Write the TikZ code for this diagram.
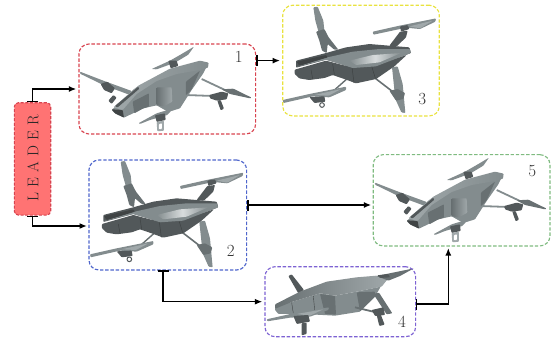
\documentclass[tikz,border=0pt]{standalone}
\usetikzlibrary{arrows.meta}
\definecolor{dk}{HTML}{52585A}
\definecolor{dkk}{HTML}{3F4344}
\definecolor{md}{HTML}{838C8E}
\definecolor{mdd}{HTML}{687072}
\definecolor{lt}{HTML}{A0A8AA}
\definecolor{wh}{HTML}{D8DCDD}
\definecolor{cred}{HTML}{D8434F}
\definecolor{cblue}{HTML}{4F66CC}
\definecolor{cyel}{HTML}{E9E23F}
\definecolor{cpur}{HTML}{7D62D3}
\definecolor{cgrn}{HTML}{7FBB80}
\tikzset{
 zbox/.style={draw,rounded corners=10pt,line width=1.15pt,dash pattern=on 3.4pt off 1.8pt,inner sep=0pt},
 lead/.style={draw=cred,fill=red!55,rounded corners=4pt,line width=1.1pt,dash pattern=on 3pt off 1.6pt,inner sep=0pt},
 num/.style={font=\fontsize{17}{19}\selectfont,text=black!80,inner sep=0pt},
 tee/.style={{Bar[width=11pt,line width=1.5pt]}-{Latex[length=7.5pt,width=6pt]},line width=1.5pt,shorten >=2pt},
 zone/.style={x=0.3333pt,y=-0.3333pt,line join=round,rounded corners=0.8pt}
}
% drone seen from the front-left (boxes 1 and 5)
\newcommand{\dronefront}[2]{%
\begin{scope}[shift={(#1,#2)},zone]
 % top propeller
 \fill[md] (455,117) -- (510,92) -- (545,72) -- (582,50) -- (565,74) -- (525,98) -- (470,118) -- cycle;
 \fill[dk] (505,92) -- (530,92) -- (535,108) -- (512,115) -- cycle;
 % left arm, blade and motor
 \fill[md] (240,125) -- (310,152) -- (395,183) -- (390,195) -- (312,166) -- (240,131) -- cycle;
 \fill[dk] (302,162) -- (322,155) -- (345,175) -- (335,190) -- (312,180) -- cycle;
 \fill[dk] (325,212) -- (340,195) -- (350,203) -- (335,222) -- cycle;
 % right arms, blade and motor
 \draw[md,line width=1.8pt] (605,147) -- (675,180);
 \draw[md,line width=1.8pt] (555,195) -- (640,198);
 \fill[mdd] (665,178) -- (700,176) -- (755,203) -- (750,205) -- (690,192) -- cycle;
 \fill[dk] (628,195) -- (665,185) -- (685,190) -- (680,208) -- (650,212) -- (630,205) -- cycle;
 \fill[dk] (652,212) -- (662,210) -- (672,236) -- (662,241) -- cycle;
 % body side
 \fill[md] (335,240) -- (405,175) -- (510,120) -- (625,100) -- (610,130) -- (575,180) -- (540,235) -- (505,246) -- (470,226) -- (430,235) -- (372,263) -- (345,250) -- cycle;
 \fill[dkk] (335,238) -- (368,240) -- (372,263) -- (345,250) -- cycle;
 \fill[mdd] (398,215) -- (447,190) -- (447,230) -- (430,235) -- (403,250) -- cycle;
 \shade[left color=mdd,right color=lt] (470,172) -- (515,172) -- (517,215) -- (490,230) -- (470,225) -- cycle;
 \fill[mdd] (558,155) -- (600,122) -- (575,178) -- (558,196) -- cycle;
 % body top
 \shade[left color=lt,right color=md] (340,232) -- (415,167) -- (510,116) -- (600,92) -- (626,98) -- (624,113) -- (600,120) -- (530,132) -- (470,153) -- (410,192) -- (368,240) -- cycle;
 \fill[dk] (345,228) -- (415,170) -- (418,176) -- (352,233) -- cycle;
 % bottom propeller
 \fill[md] (415,280) -- (470,250) -- (520,235) -- (502,255) -- (450,270) -- (420,282) -- cycle;
 \fill[dk] (465,256) -- (495,250) -- (497,270) -- (470,276) -- cycle;
 \fill[lt] (470,276) -- (492,272) -- (492,302) -- (472,304) -- cycle;
 \fill[white] (477,282) -- (486,280) -- (486,297) -- (477,298) -- cycle;
\end{scope}}
% drone seen from below (boxes 2 and 3)
\newcommand{\droneunder}[2]{%
\begin{scope}[shift={(#1,#2)},zone]
 % top propeller
 \fill[md] (362,35) -- (375,33) -- (392,75) -- (395,105) -- (387,130) -- (378,110) -- (368,75) -- cycle;
 \fill[mdd] (370,108) -- (395,100) -- (408,125) -- (437,162) -- (425,162) -- (405,145) -- (402,172) -- (388,165) -- (380,135) -- cycle;
 % right propeller
 \fill[dk] (590,150) -- (622,108) -- (645,105) -- (640,125) -- (612,152) -- cycle;
 \fill[md] (540,108) -- (620,90) -- (730,68) -- (728,78) -- (682,100) -- (640,96) -- (542,117) -- cycle;
 \fill[lt] (650,92) -- (720,75) -- (682,98) -- cycle;
 \fill[dk] (622,92) -- (645,88) -- (650,100) -- (625,108) -- cycle;
 % rear propeller and arm
 \fill[md] (598,215) -- (615,212) -- (630,265) -- (638,352) -- (626,350) -- (608,310) -- cycle;
 \draw[mdd,line width=1.6pt] (548,248) -- (600,288);
 \fill[mdd] (590,285) -- (615,280) -- (637,292) -- (632,310) -- (610,315) -- cycle;
 % left-lower arm and propeller
 \draw[mdd,line width=1.4pt] (415,292) -- (468,245);
 \fill[md] (270,313) -- (350,295) -- (460,273) -- (460,283) -- (410,305) -- (360,302) -- (272,322) -- cycle;
 \fill[lt] (365,298) -- (445,280) -- (408,300) -- cycle;
 \fill[dk] (350,304) -- (395,302) -- (398,318) -- (365,322) -- cycle;
 \draw[dk,line width=1pt] (388,328) circle (7);
 % body underside
 \fill[dk] (306,222) -- (400,195) -- (450,208) -- (480,215) -- (560,205) -- (642,178) -- (605,212) -- (550,250) -- (490,263) -- (455,250) -- (420,238) -- (395,247) -- (350,253) -- (320,248) -- (306,235) -- cycle;
 \draw[dkk,line width=.5pt] (355,222) -- (360,250) (420,205) -- (425,237) (478,215) -- (484,262) (538,215) -- (548,248);
 % body top
 \fill[dk] (310,195) -- (400,172) -- (460,155) -- (530,145) -- (590,150) -- (650,155) -- (655,172) -- (620,185) -- (550,212) -- (480,217) -- (450,207) -- (400,192) -- (310,216) -- cycle;
 \fill[md] (310,214) -- (400,186) -- (480,168) -- (560,160) -- (652,160) -- (654,172) -- (620,185) -- (550,212) -- (480,217) -- (450,207) -- (400,192) -- cycle;
 \shade[left color=md,right color=md,middle color=wh] (470,195) -- (540,178) -- (625,172) -- (560,200) -- (490,208) -- cycle;
 \fill[dkk] (312,198) -- (400,178) -- (405,185) -- (320,210) -- cycle;
\end{scope}}
% drone seen from the side (box 4)
\newcommand{\droneside}[2]{%
\begin{scope}[shift={(#1,#2)},zone]
 % stub propeller
 \fill[dk] (85,378) -- (95,373) -- (132,420) -- (115,430) -- cycle;
 % body side
 \fill[md] (45,470) -- (95,456) -- (180,430) -- (225,437) -- (290,425) -- (362,410) -- (345,440) -- (300,485) -- (225,497) -- (130,492) -- (55,492) -- (45,480) -- cycle;
 \fill[mdd] (180,432) -- (225,438) -- (228,494) -- (195,492) -- cycle;
 \fill[mdd] (290,427) -- (345,425) -- (345,440) -- (300,484) -- cycle;
 \draw[dkk,line width=.4pt] (95,458) -- (100,490) (160,438) -- (165,490);
 % body top
 \shade[left color=mdd,right color=lt] (45,463) -- (120,425) -- (200,395) -- (290,382) -- (350,377) -- (385,385) -- (365,410) -- (290,425) -- (225,437) -- (180,430) -- (95,456) -- (46,476) -- cycle;
 % upper blade
 \fill[mdd] (350,378) -- (462,355) -- (420,378) -- (385,392) -- cycle;
 \fill[dk] (352,376) -- (385,372) -- (390,382) -- (360,384) -- cycle;
 % right arms, motor and leg
 \draw[mdd,line width=1.8pt] (285,472) -- (352,488);
 \fill[mdd] (340,432) -- (357,428) -- (397,490) -- (380,493) -- cycle;
 \fill[dk] (335,480) -- (370,472) -- (375,495) -- (345,498) -- cycle;
 \fill[dk] (350,495) -- (362,493) -- (374,524) -- (358,528) -- cycle;
 % left propeller, motor and leg
 \fill[md] (20,508) -- (100,490) -- (207,472) -- (205,480) -- (150,500) -- (90,503) -- (22,514) -- cycle;
 \fill[lt] (110,492) -- (190,478) -- (150,497) -- cycle;
 \fill[dk] (100,498) -- (145,495) -- (150,515) -- (110,522) -- cycle;
 \fill[dk] (125,520) -- (140,518) -- (140,552) -- (125,556) -- cycle;
\end{scope}}
\begin{document}
\begin{tikzpicture}[x=1pt,y=-1pt]
\useasboundingbox (0,0) rectangle (553,339);
\droneunder{0}{150}
\dronefront{0}{30}
\droneunder{192.7}{-4.3}
\dronefront{295}{141}
\droneside{260}{150}
\node[zbox,draw=cred,minimum width=176.7pt,minimum height=90pt] (box1) at (167.3,89) {};
\node[zbox,draw=cblue,minimum width=157.7pt,minimum height=110pt] (box2) at (167.8,215) {};
\node[zbox,draw=cyel,minimum width=156.6pt,minimum height=110.7pt] (box3) at (361,60.6) {};
\node[zbox,draw=cpur,minimum width=150.7pt,minimum height=70pt] (box4) at (340.3,301.7) {};
\node[zbox,draw=cgrn,minimum width=176.7pt,minimum height=91.3pt] (box5) at (461.6,200.3) {};
\node[lead,minimum width=36.4pt,minimum height=112.3pt] (leader) at (32.5,158.9) {};
\node[rotate=90,font=\fontsize{15.5}{17}\selectfont,text=black!85,inner sep=0pt] (leadtext) at (33,158.5) {L\,\,E\,\,A\,\,D\,\,E\,\,R};
\node[num] (n1) at (238.7,57.3) {1};
\node[num] (n2) at (230.7,251) {2};
\node[num] (n3) at (422.3,99.3) {3};
\node[num] (n4) at (402,321.7) {4};
\node[num] (n5) at (532.3,171) {5};
\coordinate (in2) at (89,226);
\coordinate (in5) at (373.3,205);
\coordinate (out2) at (163,270);
\coordinate (out4) at (415.7,304);
\coordinate (in5b) at (448.3,246);
\draw[tee] (leader.north) |- (box1.west);
\draw[tee] (leader.south) |- (in2);
\draw[tee] (box1.east |- box3.west) -- (box3.west);
\draw[tee] (box2.east |- in5) -- (in5);
\draw[tee] (out2) |- (box4.west);
\draw[tee] (out4) -| (in5b);
\end{tikzpicture}
\end{document}
